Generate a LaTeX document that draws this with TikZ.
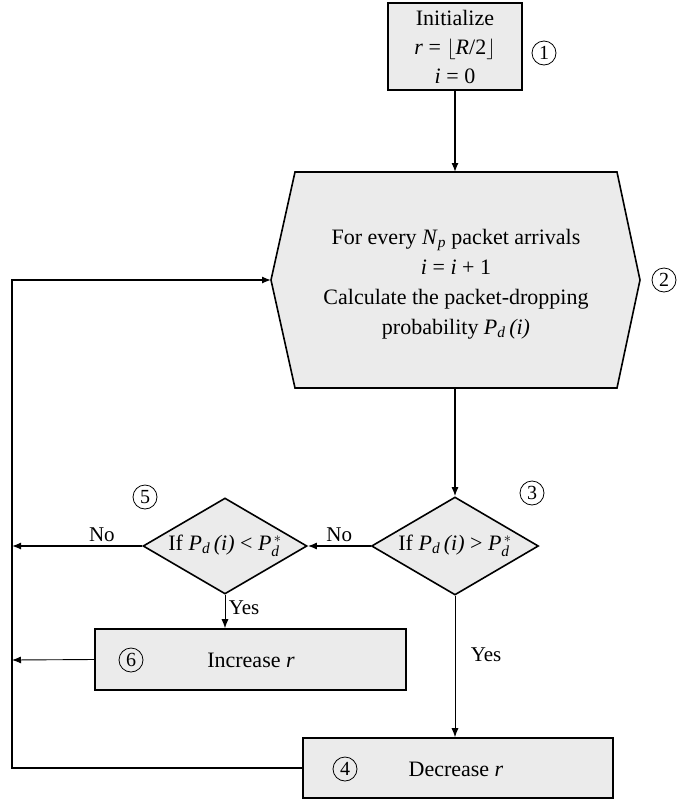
\documentclass[tikz,border=0pt]{standalone}
\usepackage{amsmath}
\usepackage{fontspec}
\setmainfont{Liberation Serif}
\usetikzlibrary{arrows.meta,shapes.geometric}
\newcommand{\sbit}[1]{$_{\text{\itshape #1}}$}
\newcommand{\sbst}[1]{$_{\text{\itshape #1}}^{\,*}$}
\begin{document}
\begin{tikzpicture}[x=1pt,y=-1pt,
  every node/.style={font=\fontsize{22}{29}\selectfont},
  box/.style={draw,line width=1.6pt,fill=gray!16},
  conn/.style={line width=1.3pt,-{Latex[length=9pt,width=7pt]}},
  thinconn/.style={line width=0.9pt,-{Latex[length=9pt,width=7pt]}},
  num/.style={draw,circle,line width=0.8pt,minimum size=24pt,inner sep=0pt,font=\fontsize{20}{20}\selectfont},
  lbl/.style={font=\fontsize{21}{24}\selectfont}]
\useasboundingbox (0,0) rectangle (679,801);

% 1: initialize
\node[box,minimum width=134pt,minimum height=87pt,align=center,inner sep=0pt] (init) at (455,46.5)
  {Initialize\\ \textit{r} = $\lfloor$\textit{R}/2$\rfloor$\\ \textit{i} = 0};
\node[num] (n1) at (544,53) {1};

% 2: hexagon
\coordinate (htl) at (295,172);
\coordinate (htr) at (617,172);
\coordinate (he) at (640,280);
\coordinate (hbr) at (617,388);
\coordinate (hbl) at (295,388);
\coordinate (hw) at (271,280);
\coordinate (htop) at (455,172);
\coordinate (hbot) at (455,388);
\draw[box] (htl)--(htr)--(he)--(hbr)--(hbl)--(hw)--cycle;
\node[align=center,font=\fontsize{22}{30}\selectfont] (hex) at (456,284)
  {For every \textit{N}\sbit{p} packet arrivals\\ \textit{i} = \textit{i} + 1\\ Calculate the packet-dropping\\ probability \textit{P}\sbit{d}\,\textit{(i)}};
\node[num] (n2) at (664,280) {2};

% 3: diamond
\node[box,diamond,minimum width=167pt,minimum height=98pt,inner sep=0pt] (d3) at (455,546) {};
\node (t3) at (d3.center) {If \textit{P}\sbit{d}\,\textit{(i)} > \textit{P}\sbst{d}};
\node[num] (n3) at (532,493) {3};

% 5: diamond
\node[box,diamond,minimum width=164pt,minimum height=96pt,inner sep=0pt] (d5) at (225,546) {};
\node (t5) at (d5.center) {If \textit{P}\sbit{d}\,\textit{(i)} < \textit{P}\sbst{d}};
\node[num] (n5) at (145,497) {5};

% 6: increase
\node[box,minimum width=311pt,minimum height=61pt,inner sep=0pt] (inc) at (250.5,659.5) {};
\node[num] (n6) at (131,660) {6};
\node (inct) at (251,660) {Increase \textit{r}};

% 4: decrease
\node[box,minimum width=310pt,minimum height=60pt,inner sep=0pt] (dec) at (458,768) {};
\node[num] (n4) at (345,769) {4};
\node (dect) at (456,769) {Decrease \textit{r}};

% left return line
\coordinate (c1) at (12,768);
\coordinate (c2) at (12,280);
\coordinate (l1) at (12,546);
\coordinate (l2) at (12,660);

% connectors
\draw[conn] (init.south) -- (htop);
\draw[conn] (hbot) -- (d3.north);
\draw[conn] (d3.west) -- node[above,lbl] {No} (d5.east);
\draw[conn] (d5.west) -- node[above,lbl,pos=0.31] {No} (l1);
\draw[thinconn] (d5.south) -- node[right,lbl,pos=0.4] {Yes} (d5.south |- inc.north);
\draw[thinconn] (inc.west) -- (l2);
\draw[thinconn] (d3.south) -- node[right,lbl,pos=0.42,xshift=12pt] {Yes} (d3.south |- dec.north);
\draw[conn] (dec.west) -- (c1) -- (c2) -- (hw);
\end{tikzpicture}
\end{document}
